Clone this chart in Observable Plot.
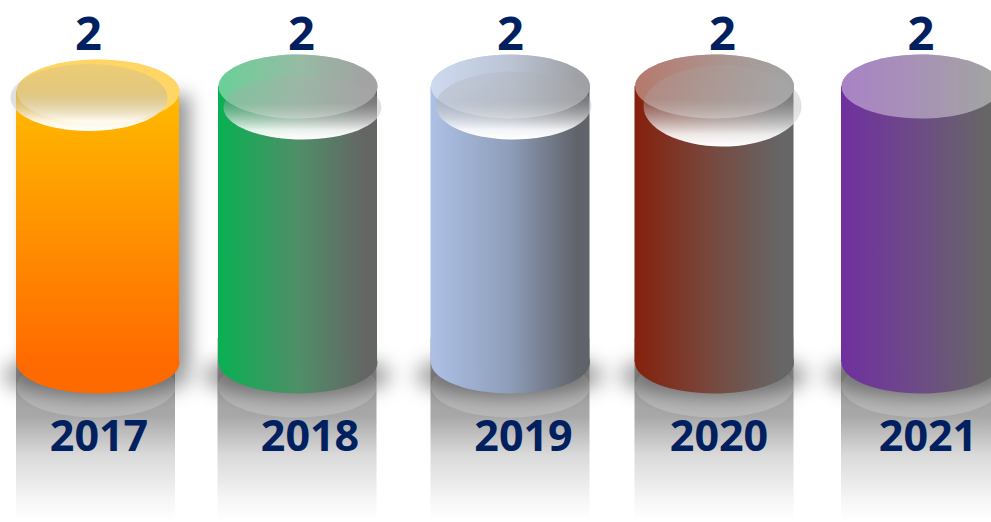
<!DOCTYPE html>
<html>
<head>
<meta charset="utf-8">
<script src="https://cdn.jsdelivr.net/npm/d3@7"></script>
<script src="https://cdn.jsdelivr.net/npm/@observablehq/plot@0.6"></script>
<style>
html,body{margin:0;padding:0;background:#fff;overflow:hidden}
svg{display:block}
</style>
</head>
<body>
<div id="chart"></div>
<script>
// Data
const years = ["2017", "2018", "2019", "2020", "2021"];
const values = [2, 2, 2, 2, 2];

// Styles
const startColors = ["#ffbb00", "#08b053", "#adc1e6", "#85200c", "#7030a0"];
const midColors = [null, "#4f8f68", "#8e9db9", "#764a40", "#6d4c85"];
const endColors = ["#ff6a00", "#646664", "#60636a", "#666666", "#666666"];
const navy = "#002060";

// Layout nudges, in pixels, per cylinder
const bodyDx = [0, -5.75, 1, -0.75, 0];
const bodyInset = [-2, 0, 0, 0, 0];
const topDrop = [5, 0, 0, 0, 0];
const reflectDx = [-2, -6.25, 1, -0.75, 0];
const valueDx = [-9.5, -2.25, 1, 7.25, 0];
const yearDx = [1, 6.25, 14, 3.75, 7];
const gloss = [
  {dx: -9, dy: 11, rx: 78.5, ry: 33.5},
  {dx: -1.25, dy: 21, rx: 79, ry: 32},
  {dx: 4, dy: 19, rx: 78, ry: 34},
  {dx: 7.25, dy: 19.5, rx: 79, ry: 40.5},
  null
];

const table = years.map((year, i) => ({year, value: values[i], i}));

// A dot symbol that draws an ellipse of the given radii
const K = 0.5522847;
const ellipse = (rx, ry) => ({
  draw(c) {
    c.moveTo(-rx, 0);
    c.bezierCurveTo(-rx, -K * ry, -K * rx, -ry, 0, -ry);
    c.bezierCurveTo(K * rx, -ry, rx, -K * ry, rx, 0);
    c.bezierCurveTo(rx, K * ry, K * rx, ry, 0, ry);
    c.bezierCurveTo(-K * rx, ry, -rx, K * ry, -rx, 0);
    c.closePath();
  }
});

function gradient(defs, id, vertical, stops) {
  const g = defs.append("linearGradient").attr("id", id)
    .attr("x1", 0).attr("y1", 0).attr("x2", vertical ? 0 : 1).attr("y2", vertical ? 1 : 0);
  for (const [offset, color, opacity] of stops) {
    g.append("stop").attr("offset", offset).attr("stop-color", color).attr("stop-opacity", opacity);
  }
}

const defsMark = () => {
  const defs = d3.create("svg:defs");
  years.forEach((y, i) => {
    const stops = i === 0
      ? [[0, startColors[i], 1], [1, endColors[i], 1]]
      : [[0, startColors[i], 1], [0.5, midColors[i], 1], [0.92, endColors[i], 1], [1, endColors[i], 1]];
    gradient(defs, `body${i}`, i === 0, stops);
  });
  gradient(defs, "reflect", true, [[0, "#a8a8a8", 1], [0.43, "#a8a8a8", 1], [0.64, "#d9d9d9", 1], [0.88, "#f5f5f5", 1], [1, "#ffffff", 1]]);
  gradient(defs, "gloss", true, [[0, "#aaaaaa", 0.22], [0.42, "#aaaaaa", 0.34], [0.85, "#ffffff", 0.88], [1, "#ffffff", 1]]);
  return defs.node();
};

const R = 31;
const marks = [defsMark];

// Reflection and ground shadow
table.forEach(d => {
  const one = [d];
  const i = d.i;
  marks.push(Plot.barY(one, {x: "year", y: "value", fill: "url(#reflect)", dx: reflectDx[i], dy: 158, insetTop: 94}));
  marks.push(Plot.dot(one, {x: "year", y: 0, dx: reflectDx[i], dy: 24, r: 5, symbol: ellipse(79.5, 31), fill: "#ffffff", fillOpacity: 0.2, stroke: "none"}));
  marks.push(Plot.dot(one, {x: "year", y: 0, dx: bodyDx[i] - 1, dy: 13, r: 5, symbol: ellipse(94, 22), fill: "#000000", fillOpacity: 0.4, stroke: "none", imageFilter: "blur(10px)"}));
});

// Cylinders
table.forEach(d => {
  const one = [d];
  const i = d.i;
  const body = `url(#body${i})`;
  const rx = 79.5 - bodyInset[i];
  if (i === 0) {
    marks.push(Plot.barY(one, {x: "year", y: "value", fill: "#000", fillOpacity: 0.4, dx: bodyDx[i] + 11, dy: 4, insetTop: topDrop[i], insetLeft: bodyInset[i], insetRight: bodyInset[i], imageFilter: "blur(9px)"}));
  }
  marks.push(Plot.dot(one, {x: "year", y: 0, dx: bodyDx[i], r: 5, symbol: ellipse(rx, R), fill: i === 0 ? endColors[0] : body, stroke: "none"}));
  marks.push(Plot.barY(one, {x: "year", y: "value", fill: body, dx: bodyDx[i], insetTop: topDrop[i], insetLeft: bodyInset[i], insetRight: bodyInset[i]}));
  marks.push(Plot.dot(one, {x: "year", y: "value", dx: bodyDx[i], dy: topDrop[i], r: 5, symbol: ellipse(rx, 32), fill: i === 0 ? startColors[0] : body, stroke: "none"}));
  marks.push(Plot.dot(one, {x: "year", y: "value", dx: bodyDx[i], dy: topDrop[i], r: 5, symbol: ellipse(rx, 32), fill: "#ffffff", fillOpacity: 0.4, stroke: "none"}));
  if (gloss[i]) {
    const g = gloss[i];
    marks.push(Plot.dot(one, {x: "year", y: "value", dx: g.dx, dy: g.dy, r: 5, symbol: ellipse(g.rx, g.ry), fill: "url(#gloss)", stroke: "none"}));
  }
});

// Labels
const font = {fontFamily: "'Open Sans', 'Noto Sans', sans-serif", fontWeight: 700, fill: navy, textAnchor: "middle", lineAnchor: "bottom"};
table.forEach(d => {
  const one = [d];
  const i = d.i;
  marks.push(Plot.text(one, {...font, x: "year", y: "value", text: "value", fontSize: 47, dx: valueDx[i], dy: -37}));
  marks.push(Plot.text(one, {...font, x: "year", y: 0, text: "year", fontSize: 43, dx: yearDx[i], dy: 88}));
});

const chart = Plot.plot({
  width: 991,
  height: 522,
  margin: 0,
  style: {background: "transparent", overflow: "hidden"},
  x: {type: "band", domain: years, range: [18, 1000], paddingInner: 0.2272, paddingOuter: 0, align: 0.5, round: false, axis: null},
  y: {domain: [0, 2], range: [362, 86], axis: null},
  marks
});
document.getElementById("chart").append(chart);
</script>
</body>
</html>
